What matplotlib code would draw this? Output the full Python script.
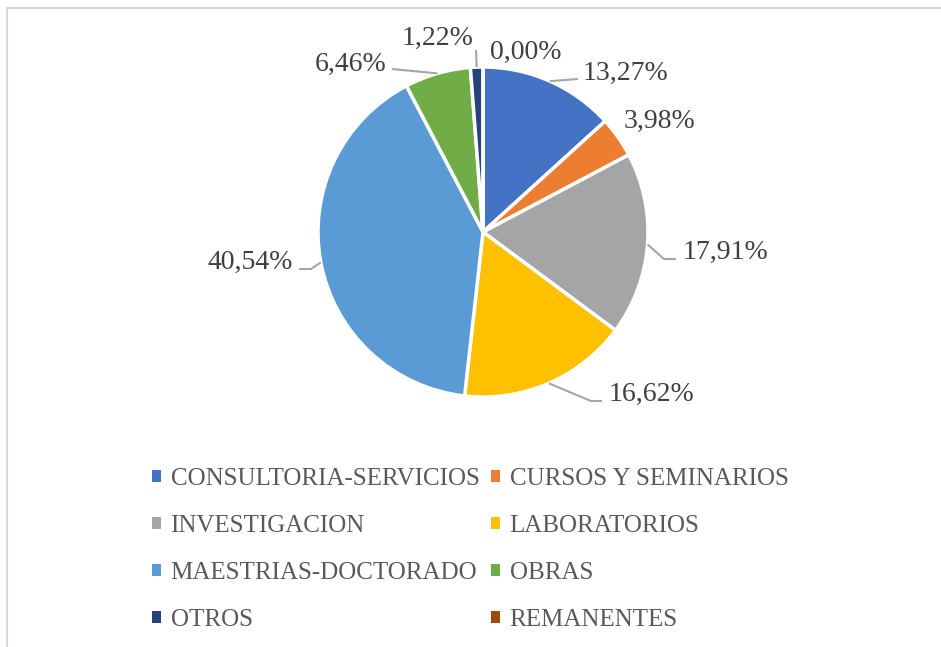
import numpy as np
import matplotlib.pyplot as plt
from matplotlib.patches import Patch, Rectangle

categories = ['CONSULTORIA-SERVICIOS', 'CURSOS Y SEMINARIOS', 'INVESTIGACION',
              'LABORATORIOS', 'MAESTRIAS-DOCTORADO', 'OBRAS', 'OTROS', 'REMANENTES']
values = [13.27, 3.98, 17.91, 16.62, 40.54, 6.46, 1.22, 0.00]
labels = ['13,27%', '3,98%', '17,91%', '16,62%', '40,54%', '6,46%', '1,22%', '0,00%']
colors = ['#4472C4', '#ED7D31', '#A5A5A5', '#FFC000',
          '#5B9BD5', '#70AD47', '#264478', '#9E480E']

# layout (pixels of the 941x647 picture)
W, H = 941, 647
cx, cy, R = 483, 232, 165
label_pos = [(625, 80), (659, 128), (725, 259), (651, 401),
             (250, 269), (351, 71), (438, 45), (526, 59)]
leader_pts = [[(578, 79)], None, [(664, 259), (676, 259)], [(591, 401), (602, 401)],
              [(311, 269), (299, 269)], [(392, 69)], [(476, 50)], None]

serif = 'Liberation Serif'


def px(x, y):
    return (x - cx) / R, (cy - y) / R


fig = plt.figure(figsize=(W / 100, H / 100), dpi=100)
ax = fig.add_axes([0, 0, 1, 1])

wedges, _ = ax.pie(values, colors=colors, startangle=90, counterclock=False, radius=1,
                   wedgeprops=dict(edgecolor='white', linewidth=2.5))
ax.set_xlim(-cx / R, (W - cx) / R)
ax.set_ylim(-(H - cy) / R, cy / R)
ax.set_aspect('equal')
ax.axis('off')

# data labels with leader lines
start = 90.0
for i, v in enumerate(values):
    mid = np.deg2rad(start - v * 3.6 / 2)
    start -= v * 3.6
    if leader_pts[i] is not None:
        xs = [np.cos(mid)] + [px(*p)[0] for p in leader_pts[i]]
        ys = [np.sin(mid)] + [px(*p)[1] for p in leader_pts[i]]
        ax.plot(xs, ys, color='#A6A6A6', lw=1.5, solid_capstyle='butt')
    tx, ty = px(*label_pos[i])
    ax.text(tx, ty, labels[i], ha='center', va='baseline', fontsize=20,
            family=serif, color='#404040')

# legend, filled row by row
order = [0, 2, 4, 6, 1, 3, 5, 7]
handles = [Patch(facecolor=colors[i], edgecolor='none') for i in order]
ax.legend(handles, [categories[i] for i in order], loc='upper center',
          bbox_to_anchor=(470 / W, 1 - 468 / H), bbox_transform=fig.transFigure,
          ncol=2, frameon=False, prop=dict(family=serif, size=18),
          labelcolor='#595959', handlelength=0.36, handleheight=0.36,
          handletextpad=0.4, columnspacing=0.45, labelspacing=1.0,
          borderpad=0, borderaxespad=0)

# chart area border (top and left visible)
fig.patches.append(Rectangle((7 / W, -0.1), 1.2, 1.1 - 8 / H, transform=fig.transFigure,
                             fill=False, edgecolor='#D9D9D9', lw=1.5))

fig.savefig('out.png', dpi=100)
